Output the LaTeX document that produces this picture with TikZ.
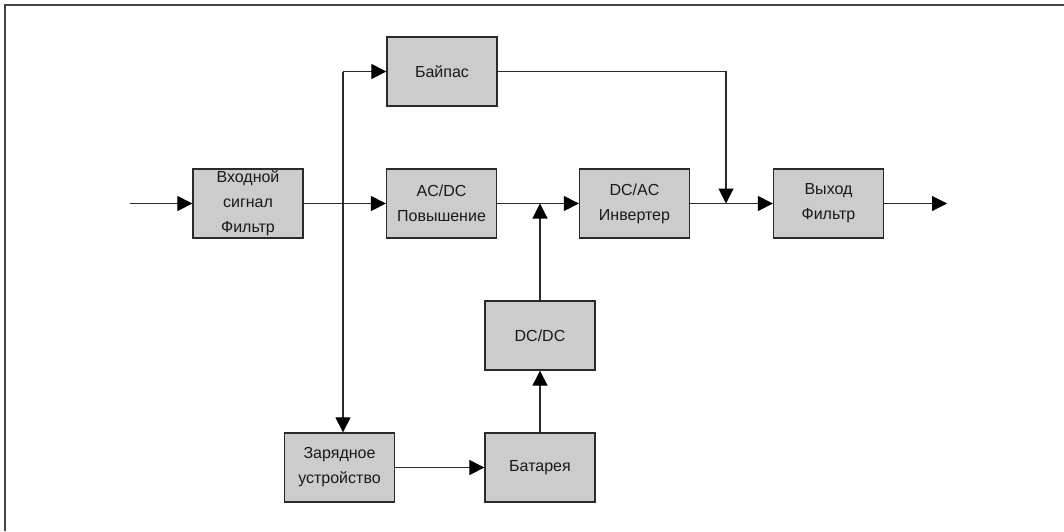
\documentclass[tikz,border=0pt]{standalone}
\usepackage{fontspec}
\setmainfont{Liberation Sans}
\usetikzlibrary{arrows.meta}
\definecolor{boxfill}{HTML}{CCCCCC}
\definecolor{edge}{HTML}{2A2A2A}
\definecolor{frame}{HTML}{444444}
\tikzset{
  blk/.style={draw=edge, fill=boxfill, line width=1.3pt, minimum width=110pt, minimum height=69pt,
    inner sep=0pt, align=center, font=\fontsize{16}{25}\selectfont, text=black!90},
  arr/.style={draw=edge, line width=1.1pt, -{Triangle[length=15pt,width=15pt,fill=black,color=black]}},
}
\begin{document}
\begin{tikzpicture}[x=1pt,y=-1pt]
\useasboundingbox (0,0) rectangle (1064,531);
\draw[frame, line width=2pt] (1064,5) -- (5,5) -- (5,531);

\node[blk] (filt) at (248,203.5) {Входной\\сигнал\\Фильтр};
\node[blk] (byp) at (442,71.5) {Байпас};
\node[blk] (acdc) at (441.5,203.5) {AC/DC\\Повышение};
\node[blk] (dcac) at (634.5,203.5) {DC/AC\\Инвертер};
\node[blk] (outf) at (828.5,203.5) {Выход\\Фильтр};
\node[blk] (dcdc) at (540,335.5) {DC/DC};
\node[blk] (chg) at (339.5,467.5) {Зарядное\\устройство};
\node[blk] (bat) at (540,467.5) {Батарея};

\coordinate (in) at (130,203.5);
\coordinate (bt) at (343,71.5);
\coordinate (bj) at (726,203.5);
\coordinate (oe) at (947,203.5);

\draw[arr] (in) -- (filt.west);
\draw[arr] (filt.east) -- (acdc.west);
\draw[arr] (bt) -- (byp.west);
\draw[arr] (bt) -- (bt |- chg.north);
\draw[arr] (byp.east) -| (bj);
\draw[arr] (acdc.east) -- (dcac.west);
\draw[arr] (dcdc.north) -- (dcdc.north |- acdc.east);
\draw[arr] (dcac.east) -- (outf.west);
\draw[arr] (outf.east) -- (oe);
\draw[arr] (bat.north) -- (dcdc.south);
\draw[arr] (chg.east) -- (bat.west);
\end{tikzpicture}
\end{document}
